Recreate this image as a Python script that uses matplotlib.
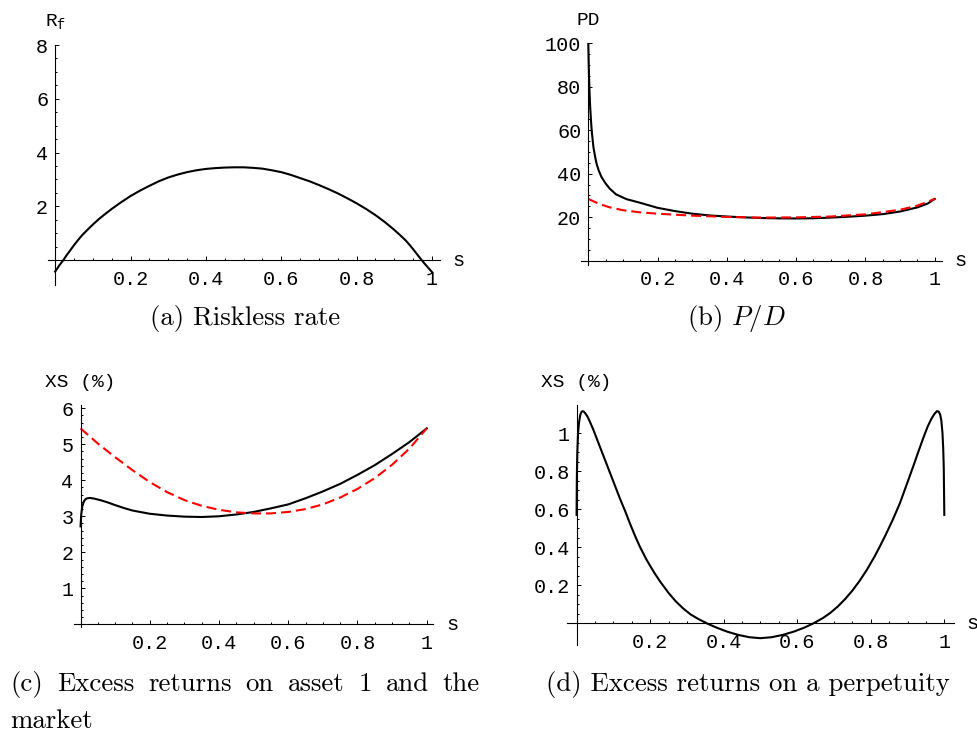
import matplotlib
matplotlib.use("Agg")
import matplotlib.pyplot as plt

plt.rcParams["font.family"] = "Liberation Mono"
plt.rcParams["mathtext.fontset"] = "custom"
plt.rcParams["mathtext.rm"] = "Liberation Mono"
plt.rcParams["mathtext.it"] = "Liberation Mono"

# (a) riskless rate
s_rf = [0, 0.005, 0.01, 0.016, 0.022, 0.03, 0.04, 0.05, 0.06, 0.072, 0.084,
        0.1, 0.115, 0.128, 0.15, 0.172, 0.2, 0.225, 0.25, 0.275, 0.3, 0.325,
        0.35, 0.375, 0.4, 0.425, 0.45, 0.475, 0.5, 0.525, 0.55, 0.575, 0.6,
        0.625, 0.65, 0.675, 0.7, 0.725, 0.75, 0.775, 0.8, 0.825, 0.85, 0.875,
        0.9, 0.915, 0.93, 0.94, 0.95, 0.96, 0.97, 0.98, 0.99, 1.0]
rf = [-0.43, -0.33, -0.22, -0.11, 0.0, 0.17, 0.36, 0.55, 0.73, 0.93, 1.10,
      1.32, 1.51, 1.66, 1.90, 2.12, 2.38, 2.58, 2.76, 2.93, 3.07, 3.18, 3.27,
      3.34, 3.39, 3.42, 3.44, 3.45, 3.45, 3.43, 3.40, 3.34, 3.27, 3.17, 3.05,
      2.93, 2.79, 2.64, 2.48, 2.30, 2.11, 1.90, 1.67, 1.41, 1.12, 0.93, 0.73,
      0.57, 0.40, 0.22, 0.04, -0.13, -0.29, -0.45]

# (b) price/dividend ratio: asset 1 (black) and market (red)
s_pd1 = [0, 0.001, 0.002, 0.0035, 0.005, 0.0075, 0.01, 0.015, 0.02, 0.024,
         0.03, 0.038, 0.05, 0.062, 0.08, 0.11, 0.15, 0.2, 0.25, 0.3, 0.35, 0.4,
         0.45, 0.5, 0.55, 0.6, 0.65, 0.7, 0.75, 0.8, 0.85, 0.9, 0.95, 0.98, 1.0]
pd1 = [100, 92, 85, 78, 72, 65, 59.5, 52, 47.5, 44.5, 41.5, 38.5, 35.5, 33.1,
       30.5, 28.3, 26.6, 24.3, 22.8, 21.6, 20.8, 20.3, 19.9, 19.6, 19.45, 19.4,
       19.5, 19.8, 20.2, 20.7, 21.4, 22.6, 24.5, 26.3, 28.4]
s_pdm = [0, 0.03, 0.06, 0.1, 0.15, 0.2, 0.3, 0.4, 0.5, 0.6, 0.7, 0.8, 0.9,
         0.95, 1.0]
pdm = [28.4, 26.2, 24.6, 23.2, 22.2, 21.6, 20.7, 20.1, 19.8, 19.9, 20.3, 21.3,
       23.4, 25.3, 28.4]

# (c) excess returns on asset 1 (black) and the market (red), in %
s_xs1 = [0, 0.002, 0.005, 0.01, 0.015, 0.02, 0.027, 0.04, 0.06, 0.08, 0.1,
         0.125, 0.15, 0.2, 0.25, 0.3, 0.35, 0.4, 0.45, 0.5, 0.55, 0.6, 0.65,
         0.7, 0.75, 0.8, 0.85, 0.9, 0.95, 1.0]
xs1 = [2.72, 3.05, 3.27, 3.42, 3.48, 3.50, 3.51, 3.49, 3.44, 3.38, 3.31, 3.23,
       3.16, 3.07, 3.02, 2.99, 2.98, 3.00, 3.05, 3.12, 3.22, 3.33, 3.50, 3.69,
       3.90, 4.15, 4.42, 4.73, 5.06, 5.44]
s_xsm = [0, 0.05, 0.1, 0.15, 0.2, 0.25, 0.3, 0.35, 0.4, 0.45, 0.5, 0.55, 0.6,
         0.65, 0.7, 0.75, 0.8, 0.85, 0.9, 0.95, 1.0]
xsm = [5.44, 5.02, 4.64, 4.28, 3.95, 3.67, 3.45, 3.29, 3.18, 3.11, 3.08, 3.08,
       3.12, 3.20, 3.33, 3.52, 3.76, 4.06, 4.43, 4.88, 5.44]

# (d) excess returns on a perpetuity, in %
s_perp = [0, 0.0005, 0.001, 0.002, 0.004, 0.007, 0.01, 0.013, 0.016, 0.02,
          0.025, 0.03, 0.036, 0.045, 0.055, 0.063, 0.075, 0.091, 0.105, 0.118,
          0.132, 0.145, 0.16, 0.172, 0.19, 0.21, 0.227, 0.25, 0.27, 0.29,
          0.31, 0.33, 0.354, 0.38, 0.41, 0.44, 0.47, 0.5, 0.53, 0.56, 0.59,
          0.62, 0.644, 0.67, 0.69, 0.71, 0.73, 0.75, 0.77, 0.79, 0.81, 0.825,
          0.84, 0.86, 0.879, 0.895, 0.915, 0.93, 0.943, 0.955, 0.965, 0.973,
          0.98, 0.985, 0.989, 0.992, 0.995, 0.997, 0.9985, 1.0]
xs_perp = [0.57, 0.72, 0.80, 0.90, 1.0, 1.06, 1.095, 1.11, 1.115, 1.112, 1.10,
           1.085, 1.06, 1.02, 0.97, 0.93, 0.87, 0.79, 0.72, 0.655, 0.59, 0.525,
           0.455, 0.403, 0.335, 0.27, 0.22, 0.16, 0.115, 0.078, 0.047, 0.024,
           0.0, -0.022, -0.044, -0.061, -0.073, -0.078, -0.073, -0.061, -0.044,
           -0.022, 0.0, 0.028, 0.055, 0.088, 0.127, 0.172, 0.224, 0.283, 0.35,
           0.405, 0.463, 0.545, 0.63, 0.715, 0.822, 0.905, 0.975, 1.035, 1.075,
           1.10, 1.115, 1.112, 1.095, 1.065, 1.0, 0.92, 0.82, 0.57]

x_major = [0.2, 0.4, 0.6, 0.8, 1.0]
x_minor = [i * 0.05 for i in range(1, 21)]

BLACK = dict(color="black", lw=1.5)
RED = dict(color="red", lw=1.5, ls=(0, (4.8, 2.4)))


def fmt(v):
    return "%g" % v


def mma_axes(ax, xlim, ylim, yticks, ystep, ylabel):
    # axes crossing at the origin, ticks on the inside, no frame
    ax.set_xlim(*xlim)
    ax.set_ylim(*ylim)
    for side in ["top", "right"]:
        ax.spines[side].set_visible(False)
    for side in ["left", "bottom"]:
        ax.spines[side].set_position(("data", 0))
        ax.spines[side].set_linewidth(0.8)
    ax.set_xticks(x_major, [fmt(v) for v in x_major])
    ax.set_xticks(x_minor, minor=True)
    ax.set_yticks(yticks, [fmt(v) for v in yticks])
    n = int(round(yticks[-1] / ystep))
    ax.set_yticks([k * ystep for k in range(1, n + 1)], minor=True)
    ax.tick_params(which="both", direction="in", width=0.7, labelsize=14.5)
    ax.tick_params(which="major", length=2.6)
    ax.tick_params(which="minor", length=1.5)
    ax.tick_params(axis="x", pad=7)
    ax.tick_params(axis="y", pad=5)
    ax.annotate(ylabel, xy=(0, 1), xycoords=("data", "axes fraction"),
                xytext=(0, 10), textcoords="offset points",
                ha="center", va="bottom", fontsize=14)
    ax.annotate("s", xy=(1, 0), xycoords=("axes fraction", "data"),
                xytext=(9, 0), textcoords="offset points",
                ha="left", va="center", fontsize=14.5)


fig = plt.figure(figsize=(9.77, 7.31), dpi=100)

ax_a = fig.add_axes([0.0491, 0.6101, 0.4012, 0.3283])
ax_a.plot(s_rf, rf, **BLACK)
mma_axes(ax_a, (-0.019, 1.021), (-0.93, 8), [2, 4, 6, 8], 0.5,
         r"$\mathrm{R}_{\mathrm{f}}$")

ax_b = fig.add_axes([0.5947, 0.6375, 0.3695, 0.3033])
ax_b.plot(s_pd1, pd1, **BLACK)
ax_b.plot(s_pdm, pdm, **RED)
mma_axes(ax_b, (-0.021, 1.021), (-2, 100), [20, 40, 60, 80, 100], 5, "PD")

ax_c = fig.add_axes([0.0757, 0.1427, 0.3678, 0.3033])
ax_c.plot(s_xs1, xs1, **BLACK)
ax_c.plot(s_xsm, xsm, **RED)
mma_axes(ax_c, (-0.019, 1.019), (-0.065, 6.09), [1, 2, 3, 4, 5, 6], 0.2,
         "XS (%)")

ax_d = fig.add_axes([0.58, 0.1176, 0.3967, 0.3283])
ax_d.plot(s_perp, xs_perp, **BLACK)
mma_axes(ax_d, (-0.027, 1.027), (-0.114, 1.147), [0.2, 0.4, 0.6, 0.8, 1.0],
         0.05, "XS (%)")

# captions
W, H = 977, 731
cap = dict(fontfamily="cmr10", fontsize=19.3, math_fontfamily="cm",
           va="center")
fig.text(245 / W, 1 - 318 / H, "(a) Riskless rate", ha="center", **cap)
fig.text(736 / W, 1 - 318 / H, r"(b) $P/D$", ha="center", **cap)
fig.text(748 / W, 1 - 684 / H, "(d) Excess returns on a perpetuity",
         ha="center", **cap)

# caption (c) is justified across the column
words = "(c) Excess returns on asset 1 and the".split()
texts = [fig.text(0, 1 - 684 / H, w, ha="left", **cap) for w in words]
fig.text(10 / W, 1 - 721 / H, "market", ha="left", **cap)
fig.canvas.draw()
renderer = fig.canvas.get_renderer()
widths = [t.get_window_extent(renderer).width for t in texts]
left, right = 10, 480
gap = (right - left - sum(widths)) / (len(words) - 1)
x = left
for t, w in zip(texts, widths):
    t.set_x(x / W)
    x += w + gap

fig.savefig("out.png", dpi=100)
